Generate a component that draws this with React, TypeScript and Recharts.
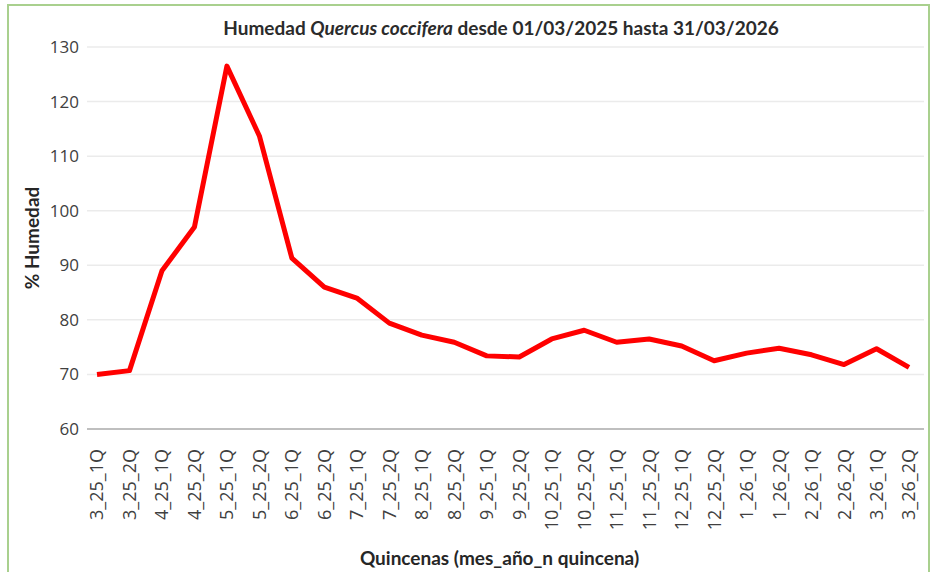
import React from 'react';
import { LineChart, Line, XAxis, YAxis, CartesianGrid } from 'recharts';

// quincenas: mes_año_n quincena
const quincenas = [
  '3_25_1Q', '3_25_2Q', '4_25_1Q', '4_25_2Q', '5_25_1Q', '5_25_2Q',
  '6_25_1Q', '6_25_2Q', '7_25_1Q', '7_25_2Q', '8_25_1Q', '8_25_2Q',
  '9_25_1Q', '9_25_2Q', '10_25_1Q', '10_25_2Q', '11_25_1Q', '11_25_2Q',
  '12_25_1Q', '12_25_2Q', '1_26_1Q', '1_26_2Q', '2_26_1Q', '2_26_2Q',
  '3_26_1Q', '3_26_2Q',
];

// % humedad
const humedad = [
  70.0, 70.7, 89.0, 97.0, 126.5, 113.7,
  91.3, 86.0, 84.0, 79.4, 77.2, 75.9,
  73.4, 73.2, 76.5, 78.1, 75.9, 76.5,
  75.2, 72.5, 73.9, 74.8, 73.6, 71.8,
  74.7, 71.3,
];

const yTicks = [60, 70, 80, 90, 100, 110, 120, 130];

const data = quincenas.map((q, i) => ({ quincena: q, humedad: humedad[i] }));

const tickFont = "'Open Sans', sans-serif";
const boldFont = "Lato, sans-serif";

const XTick = ({ x, y, payload }: any) => (
  <text
    x={x}
    y={y}
    dy="0.36em"
    transform={`rotate(-90, ${x}, ${y})`}
    textAnchor="end"
    fill="#404040"
    fontSize={18}
    fontFamily={tickFont}
  >
    {payload.value}
  </text>
);

const YLabel = ({ viewBox }: any) => {
  const cx = viewBox.x + 24;
  const cy = viewBox.y + viewBox.height / 2;
  return (
    <text
      x={cx}
      y={cy}
      transform={`rotate(-90, ${cx}, ${cy})`}
      textAnchor="middle"
      dominantBaseline="central"
      fill="#262626"
      fontSize={19}
      fontWeight={700}
      fontFamily={boldFont}
    >
      % Humedad
    </text>
  );
};

const App: React.FC = () => {
  return (
    <div
      style={{
        position: 'absolute',
        left: 0,
        top: 0,
        width: 930,
        height: 572,
        background: '#fff',
        overflow: 'hidden',
      }}
    >
      <div
        style={{
          position: 'absolute',
          left: 7,
          top: 4,
          width: 923,
          height: 620,
          boxSizing: 'border-box',
          border: '2px solid #a9d08e',
        }}
      />
      <div
        style={{
          position: 'absolute',
          left: 72,
          top: 17,
          width: 858,
          textAlign: 'center',
          fontFamily: boldFont,
          fontWeight: 700,
          fontSize: 19,
          lineHeight: '22px',
          color: '#2b2b2b',
          whiteSpace: 'nowrap',
        }}
      >
        Humedad <i>Quercus coccifera</i> desde 01/03/2025 hasta 31/03/2026
      </div>
      <LineChart
        width={930}
        height={572}
        data={data}
        margin={{ top: 47, right: 6, left: 7, bottom: 0 }}
        style={{ position: 'absolute', left: 0, top: 0 }}
      >
        <CartesianGrid vertical={false} stroke="#ebebeb" strokeWidth={1.5} />
        <XAxis
          dataKey="quincena"
          interval={0}
          height={143}
          padding={{ left: 10, right: 15 }}
          tickLine={false}
          tickSize={0}
          tickMargin={20}
          tick={<XTick />}
          axisLine={{ stroke: '#bfbfbf', strokeWidth: 2 }}
          label={{
            value: 'Quincenas (mes_año_n quincena)',
            position: 'insideBottom',
            offset: 7,
            dx: -6,
            fill: '#262626',
            fontSize: 19,
            fontWeight: 700,
            fontFamily: boldFont,
          }}
        />
        <YAxis
          domain={[60, 130]}
          ticks={yTicks}
          interval={0}
          width={80}
          axisLine={false}
          tickLine={false}
          tickSize={0}
          tickMargin={8}
          tick={{ fill: '#404040', fontSize: 17, fontFamily: tickFont }}
          label={<YLabel />}
        />
        <Line
          type="linear"
          dataKey="humedad"
          stroke="#ff0000"
          strokeWidth={5}
          strokeLinejoin="round"
          dot={false}
          isAnimationActive={false}
        />
      </LineChart>
    </div>
  );
};

export default App;
